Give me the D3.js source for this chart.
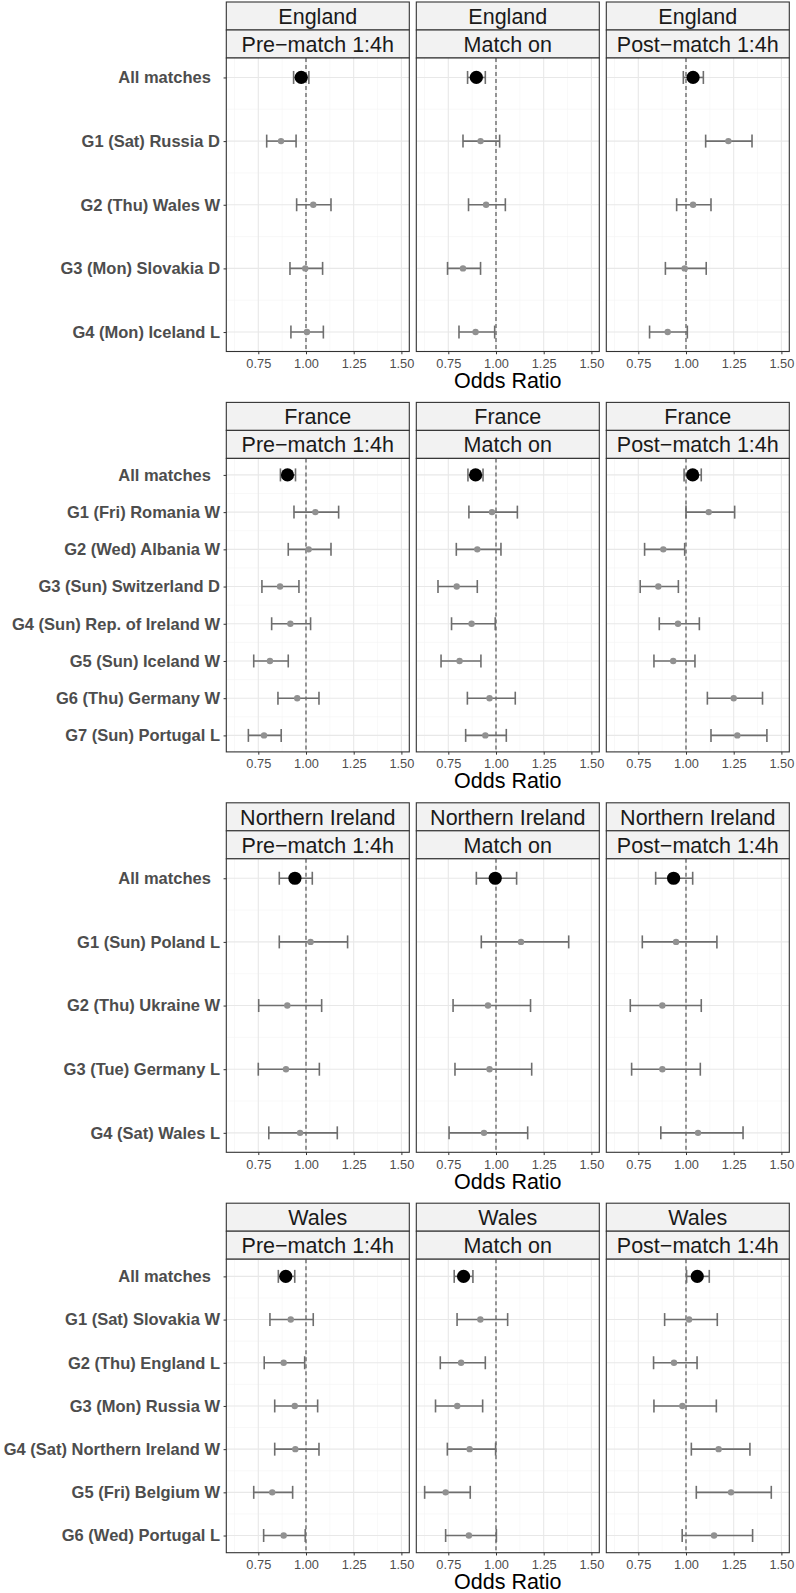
<!DOCTYPE html>
<html>
<head>
<meta charset="utf-8">
<script src="https://cdn.jsdelivr.net/npm/d3@7"></script>
<style>
  body { margin: 0; background: #fff; }
  svg { display: block; font-family: "Liberation Sans", Arial, sans-serif; }
</style>
</head>
<body>
<div id="chart"></div>
<script>
// facet labels and axis ticks
var countries = ['England', 'France', 'Northern Ireland', 'Wales']
var periods = ['Pre\u2212match 1:4h', 'Match on', 'Post\u2212match 1:4h']
var xTicks = [0.75, 1.00, 1.25, 1.50]
var xMinorTicks = [0.625, 0.875, 1.125, 1.375]

// row labels per country (top to bottom)
var englandRows = ['All matches', 'G1 (Sat) Russia D', 'G2 (Thu) Wales W', 'G3 (Mon) Slovakia D', 'G4 (Mon) Iceland L']
var franceRows = ['All matches', 'G1 (Fri) Romania W', 'G2 (Wed) Albania W', 'G3 (Sun) Switzerland D',
  'G4 (Sun) Rep. of Ireland W', 'G5 (Sun) Iceland W', 'G6 (Thu) Germany W', 'G7 (Sun) Portugal L']
var nirelandRows = ['All matches', 'G1 (Sun) Poland L', 'G2 (Thu) Ukraine W', 'G3 (Tue) Germany L', 'G4 (Sat) Wales L']
var walesRows = ['All matches', 'G1 (Sat) Slovakia W', 'G2 (Thu) England L', 'G3 (Mon) Russia W',
  'G4 (Sat) Northern Ireland W', 'G5 (Fri) Belgium W', 'G6 (Wed) Portugal L']

// odds ratio [estimate, lower, upper], one array per panel
var englandPre = [[0.975, 0.935, 1.015], [0.869, 0.794, 0.948], [1.038, 0.951, 1.131], [0.996, 0.916, 1.087], [1.005, 0.921, 1.091]]
var englandOn = [[0.897, 0.851, 0.944], [0.919, 0.827, 1.019], [0.948, 0.856, 1.049], [0.827, 0.746, 0.919], [0.893, 0.806, 0.993]]
var englandPost = [[1.037, 0.986, 1.091], [1.222, 1.103, 1.346], [1.037, 0.951, 1.131], [0.993, 0.892, 1.106], [0.904, 0.809, 1.007]]

var francePre = [[0.903, 0.866, 0.945], [1.049, 0.937, 1.171], [1.014, 0.907, 1.131], [0.864, 0.769, 0.963],
  [0.918, 0.820, 1.024], [0.811, 0.726, 0.907], [0.954, 0.853, 1.068], [0.780, 0.698, 0.870]]
var franceOn = [[0.893, 0.853, 0.932], [0.979, 0.858, 1.112], [0.902, 0.792, 1.026], [0.794, 0.696, 0.902],
  [0.872, 0.767, 0.996], [0.809, 0.712, 0.921], [0.966, 0.850, 1.101], [0.944, 0.841, 1.054]]
var francePost = [[1.035, 0.990, 1.080], [1.119, 1.000, 1.255], [0.881, 0.783, 0.993], [0.855, 0.760, 0.960],
  [0.958, 0.860, 1.070], [0.933, 0.832, 1.047], [1.250, 1.112, 1.401], [1.269, 1.131, 1.424]]

var nirelandPre = [[0.942, 0.860, 1.033], [1.024, 0.860, 1.218], [0.902, 0.752, 1.082], [0.895, 0.750, 1.070], [0.969, 0.805, 1.164]]
var nirelandOn = [[0.996, 0.897, 1.108], [1.131, 0.923, 1.381], [0.958, 0.775, 1.181], [0.966, 0.785, 1.187], [0.937, 0.754, 1.166]]
var nirelandPost = [[0.935, 0.841, 1.035], [0.948, 0.771, 1.162], [0.876, 0.708, 1.080], [0.876, 0.715, 1.075], [1.063, 0.868, 1.299]]

var walesPre = [[0.894, 0.855, 0.941], [0.920, 0.811, 1.038], [0.883, 0.781, 0.993], [0.941, 0.836, 1.061],
  [0.944, 0.836, 1.068], [0.823, 0.726, 0.930], [0.883, 0.778, 0.996]]
var walesOn = [[0.830, 0.781, 0.879], [0.918, 0.796, 1.061], [0.817, 0.708, 0.944], [0.797, 0.683, 0.930],
  [0.862, 0.745, 0.998], [0.736, 0.626, 0.865], [0.858, 0.736, 1.002]]
var walesPost = [[1.059, 1.003, 1.122], [1.016, 0.888, 1.164], [0.937, 0.830, 1.058], [0.981, 0.832, 1.159],
  [1.171, 1.028, 1.335], [1.236, 1.054, 1.447], [1.147, 0.980, 1.349]]

var groups = [
  { rows: englandRows, panels: [englandPre, englandOn, englandPost] },
  { rows: franceRows, panels: [francePre, franceOn, francePost] },
  { rows: nirelandRows, panels: [nirelandPre, nirelandOn, nirelandPost] },
  { rows: walesRows, panels: [walesPre, walesOn, walesPost] }
]

var W = 796
var H = 1593
var PANEL_LEFT = 226.3
var PANEL_W = 183
var PANEL_GAP = 7
var GROUP_TOP = 2
var GROUP_PITCH = 400.4
var STRIP_H = 28
var PANEL_H = 293.5
var GREY_BAR = '#6e6e6e'
var GREY_PT = '#919191'

var x = d3.scaleLinear().domain([0.5823, 1.5414]).range([0, PANEL_W])

var svg = d3.select('#chart').append('svg')
  .attr('width', W)
  .attr('height', H)
  .attr('viewBox', '0 0 ' + W + ' ' + H)

svg.append('rect').attr('width', W).attr('height', H).attr('fill', '#fff')

groups.forEach(function (grp, gi) {
  var top = GROUP_TOP + gi * GROUP_PITCH
  var n = grp.rows.length
  // row padding shrinks a bit as the step gets smaller
  var pad = (12.36 + 0.1115 * PANEL_H / (n - 1)) / (1 + 0.223 / (n - 1))
  var y = d3.scalePoint().domain(grp.rows).range([pad, PANEL_H - pad])
  var step = y.step()

  grp.panels.forEach(function (vals, pi) {
    var left = PANEL_LEFT + pi * (PANEL_W + PANEL_GAP)

    // strips
    var strips = svg.append('g').attr('transform', 'translate(' + left + ',' + top + ')')
    ;[countries[gi], periods[pi]].forEach(function (label, si) {
      strips.append('rect')
        .attr('x', 0).attr('y', si * STRIP_H)
        .attr('width', PANEL_W).attr('height', STRIP_H)
        .attr('fill', '#f2f2f2').attr('stroke', '#333').attr('stroke-width', 1.1)
      strips.append('text')
        .attr('x', PANEL_W / 2).attr('y', si * STRIP_H + STRIP_H / 2)
        .attr('dy', '0.36em')
        .attr('text-anchor', 'middle')
        .attr('font-size', 21.5)
        .attr('fill', '#1a1a1a')
        .text(label)
    })

    var g = svg.append('g')
      .attr('transform', 'translate(' + left + ',' + (top + 2 * STRIP_H) + ')')

    g.append('rect').attr('width', PANEL_W).attr('height', PANEL_H).attr('fill', '#fff')

    // grid
    g.selectAll('line.vminor').data(xMinorTicks).enter().append('line')
      .attr('x1', x).attr('x2', x).attr('y1', 0).attr('y2', PANEL_H)
      .attr('stroke', '#f3f3f3').attr('stroke-width', 0.6)
    g.selectAll('line.hminor').data(grp.rows.slice(1)).enter().append('line')
      .attr('x1', 0).attr('x2', PANEL_W)
      .attr('y1', function (d) { return y(d) - step / 2 })
      .attr('y2', function (d) { return y(d) - step / 2 })
      .attr('stroke', '#f3f3f3').attr('stroke-width', 0.6)
    g.selectAll('line.vmajor').data(xTicks).enter().append('line')
      .attr('x1', x).attr('x2', x).attr('y1', 0).attr('y2', PANEL_H)
      .attr('stroke', '#e8e8e8').attr('stroke-width', 1.1)
    g.selectAll('line.hmajor').data(grp.rows).enter().append('line')
      .attr('x1', 0).attr('x2', PANEL_W)
      .attr('y1', y).attr('y2', y)
      .attr('stroke', '#e8e8e8').attr('stroke-width', 1.1)

    // reference line at OR = 1
    g.append('line')
      .attr('x1', x(1)).attr('x2', x(1)).attr('y1', 0).attr('y2', PANEL_H)
      .attr('stroke', '#555').attr('stroke-width', 1.2)
      .attr('stroke-dasharray', '4,3')

    var rows = vals.map(function (v, i) {
      return { row: grp.rows[i], est: v[0], lo: v[1], hi: v[2], all: i === 0 }
    })

    var bars = g.selectAll('g.bar').data(rows).enter().append('g')
      .attr('transform', function (d) { return 'translate(0,' + y(d.row) + ')' })
    bars.append('line')
      .attr('x1', function (d) { return x(d.lo) })
      .attr('x2', function (d) { return x(d.hi) })
      .attr('stroke', GREY_BAR).attr('stroke-width', 1.6)
    bars.append('line')
      .attr('x1', function (d) { return x(d.lo) })
      .attr('x2', function (d) { return x(d.lo) })
      .attr('y1', -6.5).attr('y2', 6.5)
      .attr('stroke', GREY_BAR).attr('stroke-width', 1.6)
    bars.append('line')
      .attr('x1', function (d) { return x(d.hi) })
      .attr('x2', function (d) { return x(d.hi) })
      .attr('y1', -6.5).attr('y2', 6.5)
      .attr('stroke', GREY_BAR).attr('stroke-width', 1.6)
    bars.append('circle')
      .attr('cx', function (d) { return x(d.est) })
      .attr('r', function (d) { return d.all ? 6.6 : 3.2 })
      .attr('fill', function (d) { return d.all ? '#000' : GREY_PT })

    g.append('rect').attr('width', PANEL_W).attr('height', PANEL_H)
      .attr('fill', 'none').attr('stroke', '#333').attr('stroke-width', 1.1)

    // x axis
    var xa = g.append('g')
      .attr('transform', 'translate(0,' + PANEL_H + ')')
      .call(d3.axisBottom(x).tickValues(xTicks).tickFormat(d3.format('.2f'))
        .tickSize(2.75).tickSizeOuter(0).tickPadding(4.6))
    xa.select('.domain').remove()
    xa.selectAll('line').attr('stroke', '#333')
    xa.selectAll('text')
      .attr('fill', '#4d4d4d')
      .attr('font-size', 12.8)
      .attr('font-family', '"Liberation Sans", Arial, sans-serif')

    // y axis on the first panel only
    if (pi === 0) {
      var ya = g.append('g')
        .call(d3.axisLeft(y).tickSize(2.75).tickSizeOuter(0).tickPadding(3.5)
          .tickFormat(function (d) { return d === 'All matches' ? d + '\u00a0\u00a0' : d }))
      ya.select('.domain').remove()
      ya.selectAll('line').attr('stroke', '#333')
      ya.selectAll('text')
        .attr('fill', '#4d4d4d')
        .attr('font-size', 16.5)
        .attr('font-weight', 'bold')
        .attr('font-family', '"Liberation Sans", Arial, sans-serif')
    }

    if (pi === 1) {
      g.append('text')
        .attr('x', PANEL_W / 2)
        .attr('y', PANEL_H + 36.5)
        .attr('text-anchor', 'middle')
        .attr('font-size', 21.5)
        .attr('fill', '#000')
        .text('Odds Ratio')
    }
  })
})
</script>
</body>
</html>
